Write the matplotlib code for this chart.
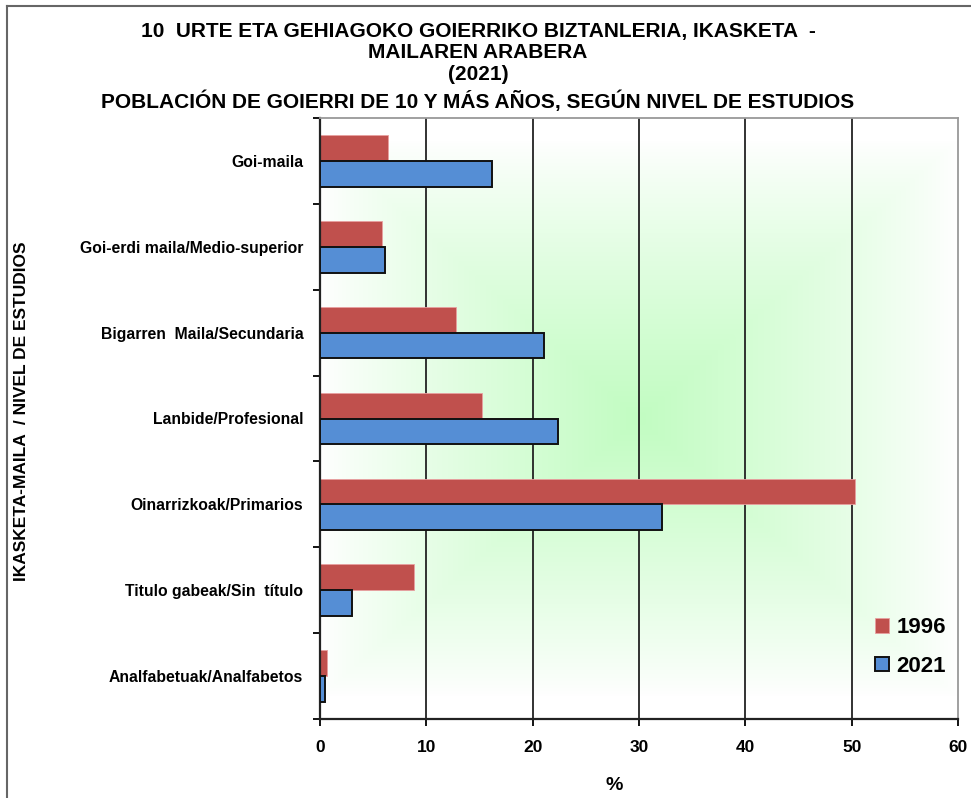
import matplotlib
matplotlib.use('Agg')
import matplotlib.pyplot as plt
import numpy as np

plt.rcParams['font.family'] = ['Liberation Sans', 'DejaVu Sans']

# categories top -> bottom
categories = ['Goi-maila', 'Goi-erdi maila/Medio-superior', 'Bigarren  Maila/Secundaria',
              'Lanbide/Profesional', 'Oinarrizkoak/Primarios', 'Titulo gabeak/Sin  título',
              'Analfabetuak/Analfabetos']
v1996 = [6.4, 5.85, 12.8, 15.2, 50.3, 8.8, 0.65]
v2021 = [16.15, 6.1, 21.1, 22.35, 32.2, 3.0, 0.45]
xticks = [0, 10, 20, 30, 40, 50, 60]

title_lines = ['10  URTE ETA GEHIAGOKO GOIERRIKO BIZTANLERIA, IKASKETA  -',
               'MAILAREN ARABERA',
               '(2021)',
               'POBLACIÓN DE GOIERRI DE 10 Y MÁS AÑOS, SEGÚN NIVEL DE ESTUDIOS']

W, H = 971, 798
fig = plt.figure(figsize=(W / 100, H / 100), dpi=100)
ax = fig.add_axes([320 / W, (H - 719) / H, (958 - 320) / W, (719 - 118) / H])

n = len(categories)
y = np.arange(n)[::-1]

# background: gradient from green centre to white edges
gx = np.linspace(-1, 1, 300)
gy = np.linspace(-1, 1, 300)
GX, GY = np.meshgrid(gx, gy)
t = 1 - np.maximum(np.abs(GX) * 1.0, np.abs(GY) * 1.08)
t = np.clip(t, 0, 1) ** 0.85
c0 = np.array([1.0, 1.0, 1.0])
c1 = np.array([0.76, 0.99, 0.76])
img = c0[None, None, :] * (1 - t[..., None]) + c1[None, None, :] * t[..., None]
ax.imshow(img, extent=[0, 60, -0.5, n - 0.5], aspect='auto', zorder=0,
          interpolation='bilinear')

for xv in xticks[1:-1]:
    ax.axvline(xv, color='#222222', lw=1.3, zorder=1)

h = 0.3
ax.barh(y + h / 2, v1996, height=h, color='#C0504D', edgecolor='#E8A0A0',
        lw=0.6, zorder=2, label='1996')
ax.barh(y - h / 2, v2021, height=h, color='#558ED5', edgecolor='#111111',
        lw=1.4, zorder=3, label='2021')

ax.set_xlim(0, 60)
ax.set_ylim(-0.5, n - 0.5)

ax.set_xticks(xticks)
ax.set_xticklabels([str(v) for v in xticks], fontsize=12.5, fontweight='bold')
ax.tick_params(axis='x', direction='out', length=5, width=1.3, pad=10)

ax.set_yticks(np.arange(n + 1) - 0.5)
ax.set_yticklabels([])
ax.set_yticks(y, minor=True)
ax.set_yticklabels(categories, minor=True, fontsize=11.3, fontweight='bold')
ax.tick_params(axis='y', which='major', direction='out', length=5, width=1.3)
ax.tick_params(axis='y', which='minor', length=0, pad=12)

for s in ['left', 'bottom']:
    ax.spines[s].set_color('#222222')
    ax.spines[s].set_linewidth(1.6)
for s in ['top', 'right']:
    ax.spines[s].set_color('#999999')
    ax.spines[s].set_linewidth(1.3)

leg = ax.legend(loc='lower right', bbox_to_anchor=(1.012, 0.037), frameon=False,
                prop={'size': 16, 'weight': 'bold'}, handlelength=0.65,
                handleheight=0.65, handletextpad=0.3, labelspacing=0.8)

ys = [31, 53, 75, 101]
for line, yy in zip(title_lines, ys):
    fig.text(478 / W, 1 - yy / H, line, ha='center', va='center', fontsize=15,
             fontweight='bold')

fig.text(22 / W, 1 - 411 / H, 'IKASKETA-MAILA  / NIVEL DE ESTUDIOS', rotation=90,
         ha='center', va='center', fontsize=12.5, fontweight='bold')
fig.text(614 / W, 1 - 786 / H, '%', ha='center', va='center', fontsize=14,
         fontweight='bold')

# outer frame (left and top edges visible)
fig.add_artist(plt.Line2D([7 / W, 7 / W], [0, 1 - 6 / H], color='#666666', lw=1.5,
                          transform=fig.transFigure))
fig.add_artist(plt.Line2D([7 / W, 1], [1 - 6 / H, 1 - 6 / H], color='#666666', lw=1.5,
                          transform=fig.transFigure))

fig.savefig('out.png', dpi=100)
